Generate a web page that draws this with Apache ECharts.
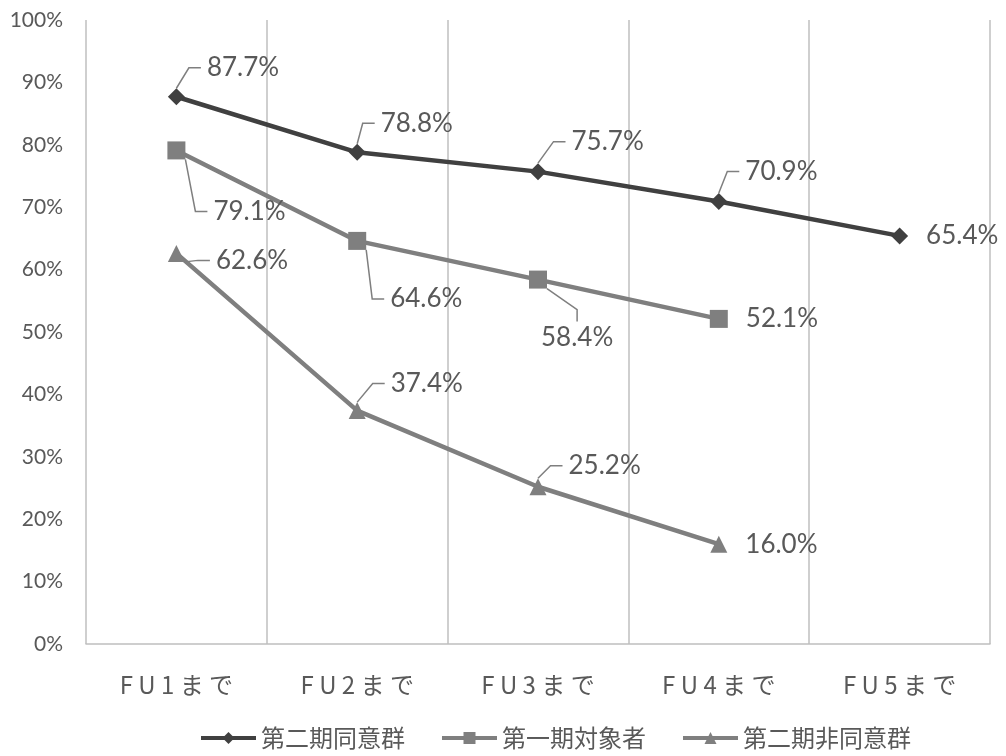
<!DOCTYPE html>
<html>
<head>
<meta charset="utf-8">
<script src="https://cdn.jsdelivr.net/npm/echarts@6/dist/echarts.min.js"></script>
<style>
    html, body {margin: 0; padding: 0; background: #fff;}
    #main {width: 1006px; height: 756px;}
</style>
</head>
<body>
<div id="main"></div>
<script>
var categories = ['FU1まで', 'FU2まで', 'FU3まで', 'FU4まで', 'FU5まで'];
var seriesNames = ['第二期同意群', '第一期対象者', '第二期非同意群'];
var douiValues = [87.7, 78.8, 75.7, 70.9, 65.4];
var taishoValues = [79.1, 64.6, 58.4, 52.1];
var hidouiValues = [62.6, 37.4, 25.2, 16.0];
var yTicks = [0, 10, 20, 30, 40, 50, 60, 70, 80, 90, 100];

// label offsets (dx, dy) from the default right-hand position, like the moved Excel labels
var labelShift = [
    [[4, -29], [-3, -29], [7, -30], [0, -30], [0, 0]],
    [[10, 61], [6, 58], [-24, 58], [0, 0]],
    [[13, 7], [7, -27], [4, -21], [0, 0]]
];

var textColor = '#595959';
var gridColor = '#bfbfbf';
var numFont = 'Lato, "Noto Sans", "Noto Sans CJK JP", sans-serif';
var jpFont = '"Noto Sans CJK JP", sans-serif';

var chart = echarts.init(document.getElementById('main'));

function makeSeries(idx, values, color, symbol, size) {
    var data = [];
    for (var i = 0; i < values.length; i++) {
        var item = {value: values[i]};
        // last point of each line: label just sits to the right, no leader
        if (i == values.length - 1) {
            item.labelLine = {show: false};
        }
        data.push(item);
    }
    return {
        name: seriesNames[idx],
        type: 'line',
        data: data,
        symbol: symbol,
        symbolSize: size,
        lineStyle: {color: color, width: 4.5},
        itemStyle: {color: color},
        label: {
            show: true,
            position: 'right',
            distance: 12,
            padding: [3, 6, 3, 6],
            // invisible box so the leader stops short of the text
            backgroundColor: 'rgba(255,255,255,0)',
            color: textColor,
            fontFamily: numFont,
            fontSize: 26,
            formatter: function (p) {
                return p.value.toFixed(1) + '%';
            }
        },
        labelLine: {
            show: true,
            length2: 12,
            lineStyle: {color: '#7f7f7f', width: 1.5}
        },
        labelLayout: function (params) {
            var s = labelShift[idx][params.dataIndex];
            return {dx: s[0], dy: s[1]};
        },
        z: 10 - idx
    };
}

var option = {
    backgroundColor: '#fff',
    animation: false,
    grid: {
        left: 86,
        right: 16,
        top: 20,
        bottom: 112,
        containLabel: false,
        outerBoundsMode: 'none'
    },
    legend: {
        data: seriesNames,
        left: 194,
        top: 721,
        itemGap: 35,
        itemWidth: 55,
        itemHeight: 15,
        lineStyle: {width: 4},
        textStyle: {color: textColor, fontFamily: jpFont, fontSize: 24}
    },
    xAxis: {
        type: 'category',
        data: categories,
        boundaryGap: true,
        axisTick: {show: false},
        axisLine: {lineStyle: {color: gridColor, width: 1.5}},
        splitLine: {show: true, lineStyle: {color: gridColor, width: 1.5}},
        axisLabel: {
            margin: 29,
            color: textColor,
            fontFamily: jpFont,
            fontSize: 24,
            formatter: function (v) {
                return v.split('').join(' ');
            }
        }
    },
    yAxis: {
        type: 'value',
        min: yTicks[0],
        max: yTicks[yTicks.length - 1],
        interval: yTicks[1] - yTicks[0],
        axisLine: {show: false},
        axisTick: {show: false},
        splitLine: {show: false},
        axisLabel: {
            margin: 23,
            color: textColor,
            fontFamily: numFont,
            fontSize: 21,
            formatter: '{value}%'
        }
    },
    series: [
        makeSeries(0, douiValues, '#404040', 'diamond', 17),
        makeSeries(1, taishoValues, '#7f7f7f', 'rect', 18),
        makeSeries(2, hidouiValues, '#7f7f7f', 'triangle', 17)
    ]
};

chart.setOption(option);
</script>
</body>
</html>
